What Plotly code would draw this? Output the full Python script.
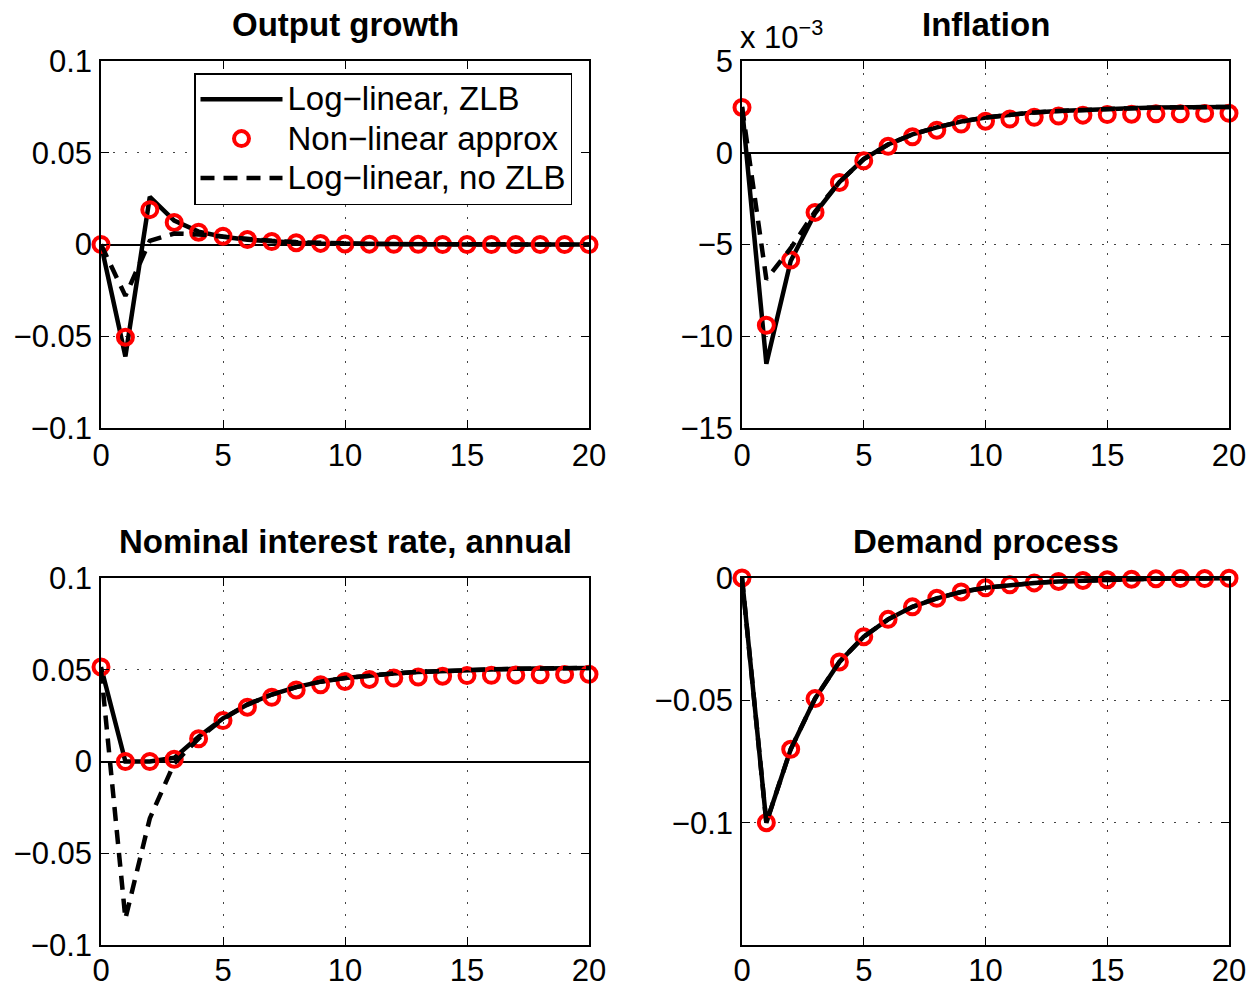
import plotly.graph_objects as go

# ---------------- data (t = 0..20) ----------------
periods = list(range(21))

# Output growth
output_zlb = [0, -0.061, 0.026, 0.013, 0.007, 0.0042, 0.0026, 0.0016, 0.001, 0.0006, 0.0004,
              0.0002, 0.0001, 0.0001, 0, 0, 0, 0, 0, 0, 0]
output_nonlin = [0, -0.0505, 0.019, 0.012, 0.0067, 0.0045, 0.0027, 0.0016, 0.001, 0.0006, 0.0003,
                 0.0002, 0.0001, 0.0001, 0, 0, 0, 0, 0, 0, 0]
output_nozlb = [0, -0.028, 0.002, 0.006, 0.0055, 0.0042, 0.003, 0.002, 0.0013, 0.0008, 0.0005,
                0.0003, 0.0002, 0.0001, 0.0001, 0, 0, 0, 0, 0, 0]

# Inflation (in units of 10^-3)
inflation_zlb = [2.5, -11.5, -5.9, -3.3, -1.6, -0.35, 0.45, 1.0, 1.38, 1.7, 1.92,
                 2.08, 2.2, 2.28, 2.35, 2.4, 2.43, 2.46, 2.48, 2.5, 2.5]
inflation_nonlin = [2.47, -9.4, -5.85, -3.25, -1.62, -0.44, 0.35, 0.87, 1.23, 1.56, 1.72,
                    1.84, 1.93, 2.0, 2.05, 2.08, 2.1, 2.12, 2.13, 2.14, 2.15]
inflation_nozlb = [2.5, -6.9, -5.2, -3.2, -1.6, -0.35, 0.45, 1.0, 1.38, 1.7, 1.92,
                   2.08, 2.2, 2.28, 2.35, 2.4, 2.43, 2.46, 2.48, 2.5, 2.5]

# Nominal interest rate, annual
rate_zlb = [0.0515, 0, 0, 0.002, 0.0135, 0.0235, 0.031, 0.0365, 0.0405, 0.0435, 0.0455,
            0.047, 0.048, 0.0488, 0.0494, 0.0499, 0.0502, 0.0505, 0.0507, 0.0509, 0.051]
rate_nonlin = [0.0515, 0, 0, 0.0012, 0.0124, 0.0223, 0.0296, 0.035, 0.039, 0.0418, 0.0436,
               0.0447, 0.0455, 0.046, 0.0465, 0.0468, 0.047, 0.0472, 0.0473, 0.0474, 0.0475]
rate_nozlb = [0.05, -0.0857, -0.031, -0.001, 0.0125, 0.0232, 0.031, 0.0365, 0.0405, 0.0435, 0.0455,
              0.047, 0.048, 0.0488, 0.0494, 0.0499, 0.0502, 0.0505, 0.0507, 0.0509, 0.051]

# Demand process
demand_zlb = [0, -0.1, -0.07, -0.0493, -0.0343, -0.024, -0.0169, -0.0118, -0.0083, -0.0057, -0.004,
              -0.0028, -0.002, -0.0014, -0.001, -0.0007, -0.0005, -0.0003, -0.0002, -0.0002, -0.0001]
demand_nonlin = [0, -0.1, -0.07, -0.0493, -0.0343, -0.024, -0.0169, -0.0118, -0.0083, -0.0057, -0.004,
                 -0.0028, -0.002, -0.0014, -0.001, -0.0007, -0.0005, -0.0003, -0.0002, -0.0002, -0.0001]
demand_nozlb = [0, -0.1, -0.07, -0.0493, -0.0343, -0.024, -0.0169, -0.0118, -0.0083, -0.0057, -0.004,
                -0.0028, -0.002, -0.0014, -0.001, -0.0007, -0.0005, -0.0003, -0.0002, -0.0002, -0.0001]

series_names = ["Log\u2212linear, ZLB", "Non\u2212linear approx", "Log\u2212linear, no ZLB"]
panel_titles = ["Output growth", "Inflation", "Nominal interest rate, annual", "Demand process"]

x_ticks = [0, 5, 10, 15, 20]
y_ticks = [
    [-0.1, -0.05, 0, 0.05, 0.1],
    [-15, -10, -5, 0, 5],
    [-0.1, -0.05, 0, 0.05, 0.1],
    [-0.1, -0.05, 0],
]
y_ticktext = [
    ["\u22120.1", "\u22120.05", "0", "0.05", "0.1"],
    ["\u221215", "\u221210", "\u22125", "0", "5"],
    ["\u22120.1", "\u22120.05", "0", "0.05", "0.1"],
    ["\u22120.1", "\u22120.05", "0"],
]
y_ranges = [[-0.1, 0.1], [-15, 5], [-0.1, 0.1], [-0.15, 0]]

panels = [
    (output_zlb, output_nonlin, output_nozlb),
    (inflation_zlb, inflation_nonlin, inflation_nozlb),
    (rate_zlb, rate_nonlin, rate_nozlb),
    (demand_zlb, demand_nonlin, demand_nozlb),
]

# ---------------- layout geometry ----------------
W, H = 1257, 988
x_doms = [[101 / W, 589 / W], [742 / W, 1229 / W]]
y_doms = [[1 - 428 / H, 1 - 61 / H], [1 - 945 / H, 1 - 578 / H]]
FONT = "Liberation Sans, Arial, Helvetica, sans-serif"
LEGEND_TEXT = "<span style='font-size:33px'>{}</span>"

fig = go.Figure()

for i, (zlb, nonlin, nozlb) in enumerate(panels):
    n = i + 1
    xa = "x" if n == 1 else f"x{n}"
    ya = "y" if n == 1 else f"y{n}"
    show = (i == 0)
    fig.add_trace(go.Scatter(x=periods, y=zlb, mode="lines",
                             name=LEGEND_TEXT.format(series_names[0]),
                             line=dict(color="black", width=4.5), xaxis=xa, yaxis=ya,
                             showlegend=show, legendgroup="a"))
    fig.add_trace(go.Scatter(x=periods, y=nonlin, mode="markers",
                             name=LEGEND_TEXT.format(series_names[1]),
                             marker=dict(symbol="circle-open", size=15, color="red",
                                         line=dict(width=4, color="red")),
                             cliponaxis=False, xaxis=xa, yaxis=ya,
                             showlegend=show, legendgroup="b"))
    fig.add_trace(go.Scatter(x=periods, y=nozlb, mode="lines",
                             name=LEGEND_TEXT.format(series_names[2]),
                             line=dict(color="black", width=4.5, dash="14px,9px"),
                             xaxis=xa, yaxis=ya, showlegend=show, legendgroup="c"))

axis_common = dict(
    showline=True, linecolor="black", linewidth=1.5, mirror="ticks",
    ticks="inside", ticklen=8, tickwidth=1.3, tickcolor="black",
    showgrid=True, gridcolor="#444", gridwidth=1, griddash="2px,10px",
    tickfont=dict(family=FONT, size=31, color="black"),
    automargin=False,
)

layout_axes = {}
for i in range(4):
    n = i + 1
    row, col = divmod(i, 2)
    xkey = "xaxis" if n == 1 else f"xaxis{n}"
    ykey = "yaxis" if n == 1 else f"yaxis{n}"
    xanchor = "y" if n == 1 else f"y{n}"
    yanchor = "x" if n == 1 else f"x{n}"
    layout_axes[xkey] = dict(axis_common, domain=x_doms[col], range=[0, 20],
                             tickvals=x_ticks, ticktext=[str(v) for v in x_ticks],
                             zeroline=False, anchor=xanchor,
                             ticklabelstandoff=-1 if row == 0 else -3)
    layout_axes[ykey] = dict(axis_common, domain=y_doms[row], range=y_ranges[i],
                             tickvals=y_ticks[i], ticktext=y_ticktext[i],
                             zeroline=True, zerolinecolor="black", zerolinewidth=2,
                             anchor=yanchor, ticklabelstandoff=1)

fig.update_layout(**layout_axes)

annotations = []
title_pos = [
    ((x_doms[0][0] + x_doms[0][1]) / 2, 1 - 24 / H),
    ((x_doms[1][0] + x_doms[1][1]) / 2, 1 - 24 / H),
    ((x_doms[0][0] + x_doms[0][1]) / 2, 1 - 541 / H),
    ((x_doms[1][0] + x_doms[1][1]) / 2, 1 - 541 / H),
]
for t, (px, py) in zip(panel_titles, title_pos):
    annotations.append(dict(text=f"<b>{t}</b>", x=px, y=py, xref="paper", yref="paper",
                            xanchor="center", yanchor="middle", showarrow=False,
                            font=dict(family=FONT, size=33, color="black")))
annotations.append(dict(text="x 10<sup>\u22123</sup>", x=738 / W, y=1 - 35 / H,
                        xref="paper", yref="paper", xanchor="left", yanchor="middle",
                        showarrow=False, font=dict(family=FONT, size=31, color="black")))

fig.update_layout(
    width=W, height=H,
    margin=dict(l=0, r=0, t=0, b=0, pad=0, autoexpand=False),
    paper_bgcolor="white", plot_bgcolor="white",
    annotations=annotations,
    showlegend=True,
    legend=dict(x=194 / W, y=1 - 73 / H, xanchor="left", yanchor="top",
                bgcolor="white", bordercolor="black", borderwidth=1.5,
                font=dict(family=FONT, size=28, color="black"),
                itemwidth=82, tracegroupgap=0),
)

fig.write_html("out.html", config={"displayModeBar": False},
               post_script="document.body.style.margin='0';document.body.style.overflow='hidden';")
